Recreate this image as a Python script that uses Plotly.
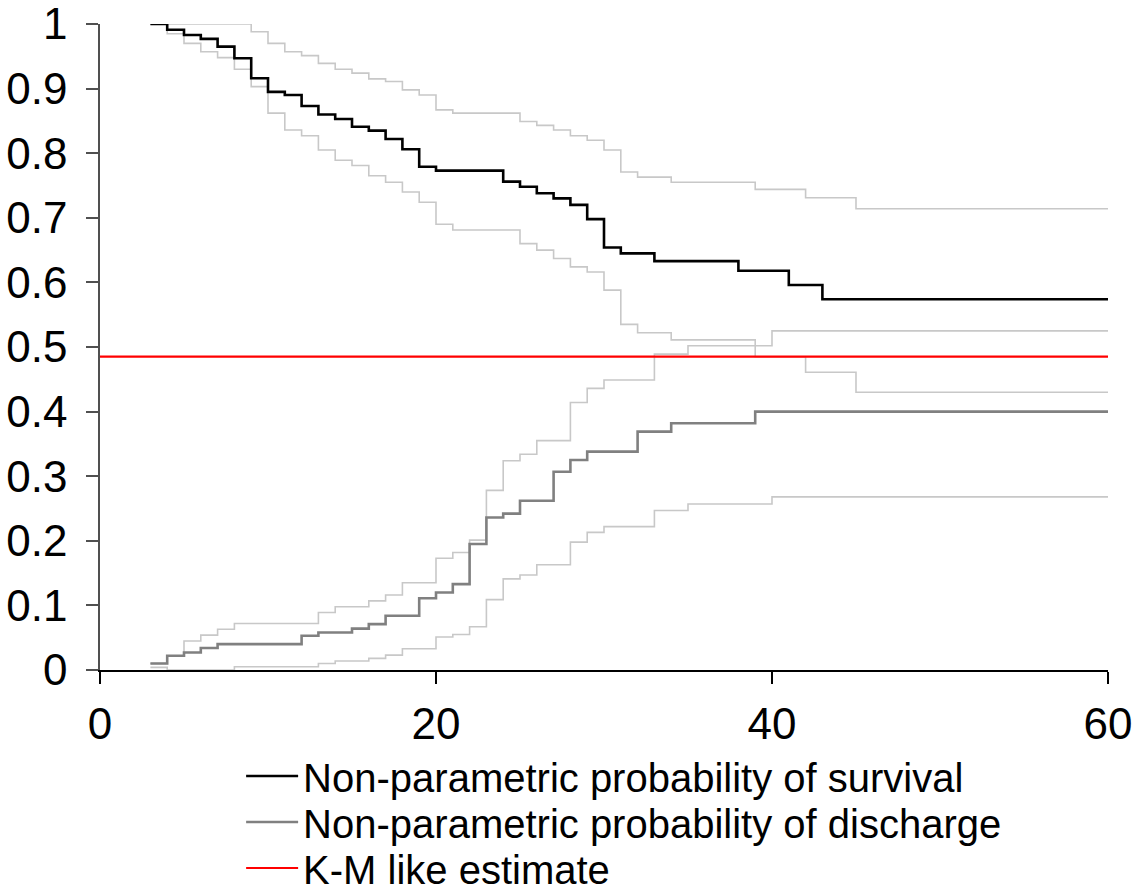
import plotly.graph_objects as go

# ---- data (time in days, probability) ----
surv_t = [3, 4, 5, 6, 7, 8, 9, 10, 11, 12, 13, 14, 15, 16, 17, 18, 19, 20, 24, 25, 26, 27, 28, 29, 30, 31, 33, 38, 41, 43, 60]
surv_v = [1.0, 0.991, 0.983, 0.977, 0.965, 0.947, 0.916, 0.895, 0.890, 0.873, 0.860, 0.853, 0.841, 0.835, 0.822, 0.806,
          0.779, 0.773, 0.756, 0.748, 0.738, 0.730, 0.720, 0.698, 0.654, 0.645, 0.633, 0.618, 0.596, 0.574, 0.574]

surv_up_t = [3, 9, 10, 11, 12, 13, 14, 15, 16, 17, 18, 19, 20, 21, 25, 26, 27, 28, 29, 30, 31, 32, 34, 39, 42, 45, 60]
surv_up_v = [1.0, 0.988, 0.970, 0.957, 0.951, 0.939, 0.930, 0.924, 0.915, 0.911, 0.898, 0.890, 0.867, 0.862, 0.849,
             0.843, 0.836, 0.827, 0.820, 0.805, 0.771, 0.763, 0.755, 0.744, 0.731, 0.714, 0.714]

surv_lo_t = [3, 4, 5, 6, 7, 8, 9, 10, 11, 12, 13, 14, 15, 16, 17, 18, 19, 20, 21, 25, 26, 27, 28, 29, 30, 31, 32, 34, 39, 42, 45, 60]
surv_lo_v = [1.0, 0.985, 0.970, 0.957, 0.948, 0.930, 0.903, 0.862, 0.836, 0.827, 0.805, 0.789, 0.781, 0.765, 0.755,
             0.740, 0.724, 0.690, 0.681, 0.660, 0.650, 0.637, 0.624, 0.616, 0.588, 0.535, 0.522, 0.511, 0.485,
             0.461, 0.430, 0.430]

dis_t = [3, 4, 5, 6, 7, 12, 13, 15, 16, 17, 19, 20, 21, 22, 23, 24, 25, 27, 28, 29, 32, 34, 39, 60]
dis_v = [0.010, 0.022, 0.027, 0.034, 0.040, 0.053, 0.058, 0.064, 0.071, 0.084, 0.111, 0.120, 0.133, 0.195, 0.236,
         0.242, 0.262, 0.307, 0.325, 0.338, 0.369, 0.382, 0.400, 0.400]

dis_up_t = [3, 4, 5, 6, 7, 8, 13, 14, 16, 17, 18, 20, 21, 22, 23, 24, 25, 26, 28, 29, 30, 33, 35, 40, 60]
dis_up_v = [0.010, 0.022, 0.045, 0.054, 0.063, 0.072, 0.089, 0.098, 0.107, 0.116, 0.135, 0.173, 0.182, 0.201, 0.278,
            0.324, 0.334, 0.355, 0.414, 0.436, 0.449, 0.489, 0.502, 0.525, 0.525]

dis_lo_t = [3, 4, 8, 13, 14, 16, 17, 18, 20, 21, 22, 23, 24, 25, 26, 28, 29, 30, 33, 35, 40, 60]
dis_lo_v = [0.004, 0.0, 0.005, 0.010, 0.014, 0.018, 0.023, 0.033, 0.051, 0.055, 0.067, 0.109, 0.141, 0.147, 0.163,
            0.198, 0.213, 0.222, 0.247, 0.257, 0.268, 0.268]

km_t = [0, 60]
km_v = [0.485, 0.485]

x_ticks = [0, 20, 40, 60]

CI_COLOR = "#c8c8c8"
W, H = 1132, 896

fig = go.Figure()
for t, v in [(surv_up_t, surv_up_v), (surv_lo_t, surv_lo_v), (dis_up_t, dis_up_v), (dis_lo_t, dis_lo_v)]:
    fig.add_trace(go.Scatter(x=t, y=v, mode="lines", line=dict(color=CI_COLOR, width=1.6, shape="hv"),
                             showlegend=False, hoverinfo="skip"))

fig.add_trace(go.Scatter(x=surv_t, y=surv_v, mode="lines", name="Non-parametric probability of survival",
                         line=dict(color="black", width=2.6, shape="hv"), legend="legend"))
fig.add_trace(go.Scatter(x=dis_t, y=dis_v, mode="lines", name="Non-parametric probability of discharge",
                         line=dict(color="#808080", width=2.6, shape="hv"), legend="legend2"))
fig.add_trace(go.Scatter(x=km_t, y=km_v, mode="lines", name="K-M like estimate",
                         line=dict(color="red", width=2.2), legend="legend3"))


def leg(center_px):
    return dict(x=0.14, y=1 - center_px / H, xref="paper", yref="container",
                xanchor="left", yanchor="middle", orientation="v",
                font=dict(size=40, color="black"), itemwidth=52,
                bgcolor="rgba(0,0,0,0)")


fig.update_layout(
    width=W, height=H,
    margin=dict(l=100, r=24, t=24, b=226, autoexpand=False),
    plot_bgcolor="white", paper_bgcolor="white",
    font=dict(family="Arial, Liberation Sans, sans-serif", size=44, color="black"),
    showlegend=True,
    legend=leg(776), legend2=leg(822), legend3=leg(868),
)
fig.update_xaxes(range=[0, 60], tickvals=x_ticks, showgrid=False, zeroline=False, automargin=False,
                 showline=True, linecolor="black", linewidth=1.5,
                 ticks="outside", ticklen=12, tickcolor="black", tickwidth=1.5,
                 ticklabelstandoff=2, ticklabeloverflow="allow")
fig.update_yaxes(range=[0, 1], dtick=0.1, tick0=0, showgrid=False, zeroline=False, automargin=False,
                 showline=True, linecolor="#505050", linewidth=1.5,
                 ticks="outside", ticklen=12, tickcolor="#505050", tickwidth=1.5,
                 ticklabelstandoff=10, ticklabeloverflow="allow")

fig.write_html("out.html")
